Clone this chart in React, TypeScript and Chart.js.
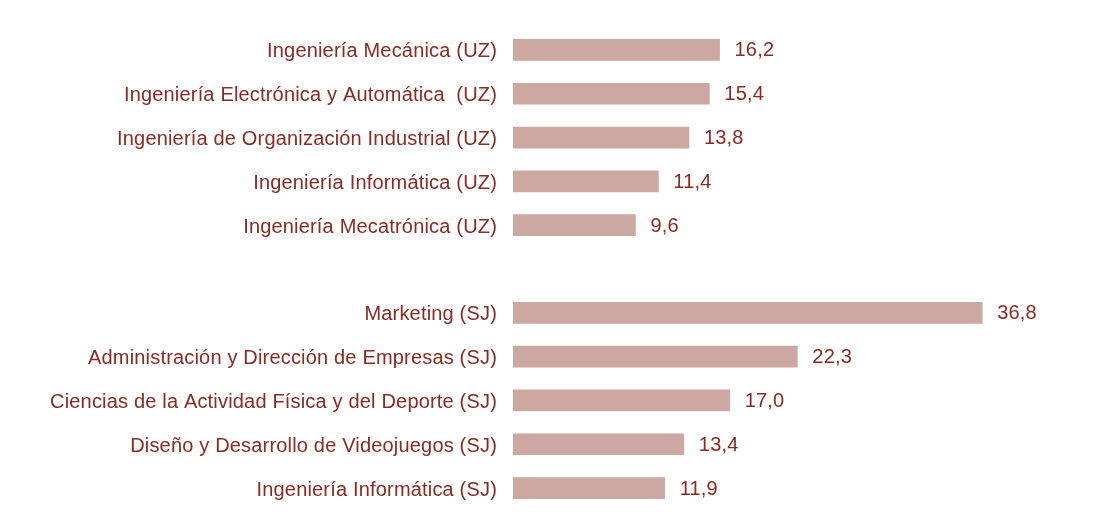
import React, { useEffect, useRef } from "react";
import { Chart, registerables } from "chart.js";

Chart.register(...registerables);

const categories: string[] = [
  "Ingeniería Mecánica (UZ)",
  "Ingeniería Electrónica y Automática  (UZ)",
  "Ingeniería de Organización Industrial (UZ)",
  "Ingeniería Informática (UZ)",
  "Ingeniería Mecatrónica (UZ)",
  "",
  "Marketing (SJ)",
  "Administración y Dirección de Empresas (SJ)",
  "Ciencias de la Actividad Física y del Deporte (SJ)",
  "Diseño y Desarrollo de Videojuegos (SJ)",
  "Ingeniería Informática (SJ)",
];

const values: (number | null)[] = [16.2, 15.4, 13.8, 11.4, 9.6, null, 36.8, 22.3, 17.0, 13.4, 11.9];

const TEXT_COLOR = "#8a2a22";
const BAR_COLOR = "#cda7a1";
const FONT_FAMILY = "'Liberation Sans', Arial, Helvetica, sans-serif";
const FONT_SIZE = 20;

const spacingPlugin = {
  id: "letterSpacing",
  beforeDraw(chart: any) {
    (chart.ctx as any).letterSpacing = "0.18px";
  },
};

const valueLabelPlugin = {
  id: "valueLabels",
  afterDatasetsDraw(chart: any) {
    const ctx = chart.ctx;
    const meta = chart.getDatasetMeta(0);
    ctx.save();
    ctx.fillStyle = TEXT_COLOR;
    ctx.font = `${FONT_SIZE}px ${FONT_FAMILY}`;
    ctx.textAlign = "left";
    ctx.textBaseline = "middle";
    meta.data.forEach((el: any, i: number) => {
      const v = values[i];
      if (v === null || v === undefined) return;
      const txt = v.toFixed(1).replace(".", ",");
      ctx.fillText(txt, el.x + 15, el.y + 1);
    });
    ctx.restore();
  },
};

export default function App() {
  const canvasRef = useRef<HTMLCanvasElement | null>(null);

  useEffect(() => {
    document.body.style.margin = "0";
    const canvas = canvasRef.current;
    if (!canvas) return;
    const chart = new Chart(canvas, {
      type: "bar",
      data: {
        labels: categories,
        datasets: [
          {
            data: values as any,
            backgroundColor: BAR_COLOR,
            borderWidth: 0,
            barThickness: 21,
          },
        ],
      },
      options: {
        indexAxis: "y",
        animation: false,
        responsive: false,
        maintainAspectRatio: false,
        layout: { padding: { top: 28, bottom: 15, left: 0, right: 74 } },
        plugins: {
          legend: { display: false },
          tooltip: { enabled: false },
        },
        scales: {
          x: {
            display: false,
            min: 0,
            max: 40,
          },
          y: {
            grid: { display: false, drawTicks: false },
            border: { display: false },
            ticks: {
              color: TEXT_COLOR,
              font: { family: FONT_FAMILY, size: FONT_SIZE },
              padding: 16,
              autoSkip: false,
              labelOffset: 2,
            },
            afterFit(scale: any) {
              scale.width = 513;
              scale.paddingTop = 0;
              scale.paddingBottom = 0;
            },
          },
        },
      },
      plugins: [spacingPlugin, valueLabelPlugin],
    });
    return () => chart.destroy();
  }, []);

  return (
    <div style={{ width: 1097, height: 525, background: "#ffffff" }}>
      <canvas ref={canvasRef} width={1097} height={525} style={{ display: "block" }} />
    </div>
  );
}
